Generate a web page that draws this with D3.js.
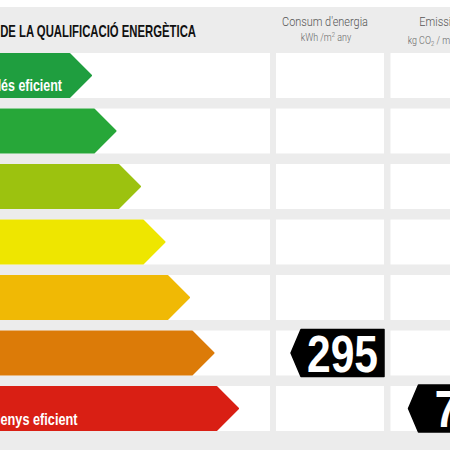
<!DOCTYPE html>
<html><head><meta charset="utf-8">
<script src="https://cdn.jsdelivr.net/npm/d3@7"></script>
<style>html,body{margin:0;padding:0;background:#fff;overflow:hidden}</style>
</head><body>
<script>
// ---- data ----
const classes = ["A","B","C","D","E","F","G"];
const classColors = ["#1f9e3f","#27a739","#9cc20f","#eee600","#f0b905","#dc7b08","#d91f14"];
const title = "ESCALA DE LA QUALIFICACIÓ ENERGÈTICA";
const topLabel = "Més eficient";
const bottomLabel = "Menys eficient";
const colHeaders = ["Consum d'energia","Emissions"];
const energyValue = 295, energyClass = "F";
const emissionValue = 71, emissionClass = "G";

const W = 450, H = 450;
const svg = d3.select("body").append("svg").attr("width",W).attr("height",H)
  .style("font-family","'Liberation Sans', Arial, sans-serif");

svg.append("rect").attr("x",0).attr("y",0).attr("width",W).attr("height",H).attr("fill","#fff");
svg.append("rect").attr("x",0).attr("y",7).attr("width",W).attr("height",H-7).attr("fill","#ececec");

const y = d3.scaleBand().domain(classes).range([47.75, 436.25]).paddingInner(0.19).paddingOuter(0.095);
const tip = d3.scaleLinear().domain([0,6]).range([92,239]);
const color = d3.scaleOrdinal().domain(classes).range(classColors);

const cols = [[0,270],[276,384],[390.5,498.5]];

// white cells
classes.forEach(c=>{
  cols.forEach(([a,b])=>{
    svg.append("rect").attr("x",a).attr("y",y(c)).attr("width",b-a).attr("height",y.bandwidth()).attr("fill","#fff");
  });
});

// arrows
const bh = y.bandwidth();
svg.append("g").selectAll("path").data(classes).join("path")
  .attr("d",(c,i)=>{
    const t=tip(i)-1, y0=y(c)+1, y1=y(c)+bh-1, ym=(y0+y1)/2, b=t-(ym-y0);
    return `M-5,${y0}L${b},${y0}L${t},${ym}L${b},${y1}L-5,${y1}Z`;
  })
  .attr("fill",c=>color(c)).attr("stroke",c=>color(c)).attr("stroke-width",2).attr("stroke-linejoin","round");

// helper to fit text horizontally
function fitText(sel, visibleStr, targetW){
  const tmp = svg.append("text").attr("font-size",sel.attr("font-size")).attr("font-weight",sel.attr("font-weight"))
    .style("font-family",sel.style("font-family")).text(visibleStr);
  const w = tmp.node().getComputedTextLength(); tmp.remove();
  return targetW/w;
}

// title
{
  const t = svg.append("text").attr("font-size",16.5).attr("font-weight","bold").attr("fill","#111").attr("text-anchor","end").text(title);
  const sx = fitText(t,"DE LA QUALIFICACIÓ ENERGÈTICA",196);
  t.attr("transform",`translate(196,36.7) scale(${sx},1)`);
}
// bar labels
{
  const t = svg.append("text").attr("font-size",17).attr("font-weight","bold").attr("fill","#fff").attr("text-anchor","end").text(topLabel);
  const sx = fitText(t,"és eficient",61);
  t.attr("transform",`translate(62,91) scale(${sx},1)`);
  const t2 = svg.append("text").attr("font-size",17).attr("font-weight","bold").attr("fill","#fff").attr("text-anchor","end").text(bottomLabel);
  const sx2 = fitText(t2,"enys eficient",77);
  t2.attr("transform",`translate(77.5,425) scale(${sx2},1)`);
}
// column headers
{
  const h1 = svg.append("text").attr("font-size",13.5).attr("font-weight",300).style("font-family","Roboto, sans-serif").attr("fill","#555").attr("text-anchor","middle").text(colHeaders[0]);
  const sx = fitText(h1,colHeaders[0],86);
  h1.attr("transform",`translate(325,25.5) scale(${sx},1)`);
  const s1 = svg.append("text").attr("font-size",10.5).attr("font-weight",300).style("font-family","Roboto, sans-serif").attr("fill","#666").attr("text-anchor","middle")
    .attr("transform",`translate(326,41) scale(0.85,1)`);
  s1.append("tspan").text("kWh /m");
  s1.append("tspan").attr("font-size",7).attr("dy",-4).text("2");
  s1.append("tspan").attr("dy",4).text("  any");
  const h2 = svg.append("text").attr("font-size",13.5).attr("font-weight",300).style("font-family","Roboto, sans-serif").attr("fill","#555").attr("text-anchor","start").text(colHeaders[1]);
  h2.attr("transform",`translate(419.3,25.5) scale(${sx},1)`);
  const s2 = svg.append("text").attr("font-size",10.5).attr("font-weight",300).style("font-family","Roboto, sans-serif").attr("fill","#666").attr("text-anchor","start")
    .attr("transform",`translate(407.7,44) scale(0.85,1)`);
  s2.append("tspan").text("kg CO");
  s2.append("tspan").attr("font-size",7).attr("dy",2).text("2");
  s2.append("tspan").attr("dy",-2).text("  / m");
  s2.append("tspan").attr("font-size",7).attr("dy",-4).text("2");
  s2.append("tspan").attr("dy",4).text(" any");
}

// value labels
function valueLabel(col, cls, value, off){
  const [a,b] = cols[col];
  const t = a+off, y0=y(cls)-1, y1=y(cls)+bh+1, ym=(y0+y1)/2, bx=t+10;
  svg.append("path").attr("d",`M${t},${ym}L${bx},${y0}L${b},${y0}L${b},${y1}L${bx},${y1}Z`)
    .attr("fill","#000").attr("stroke","#000").attr("stroke-width",1.5).attr("stroke-linejoin","round");
  const tx = svg.append("text").attr("font-size",51).attr("font-weight","bold").attr("fill","#fff").attr("text-anchor","middle").text(value);
  const sx = fitText(tx,String(value),71*String(value).length/3);
  tx.attr("transform",`translate(${(bx+b)/2},${y(cls)+bh-3.5}) scale(${sx},1)`);
}
valueLabel(1, energyClass, energyValue, 15);
valueLabel(2, emissionClass, emissionValue, 18);
</script>
</body></html>
